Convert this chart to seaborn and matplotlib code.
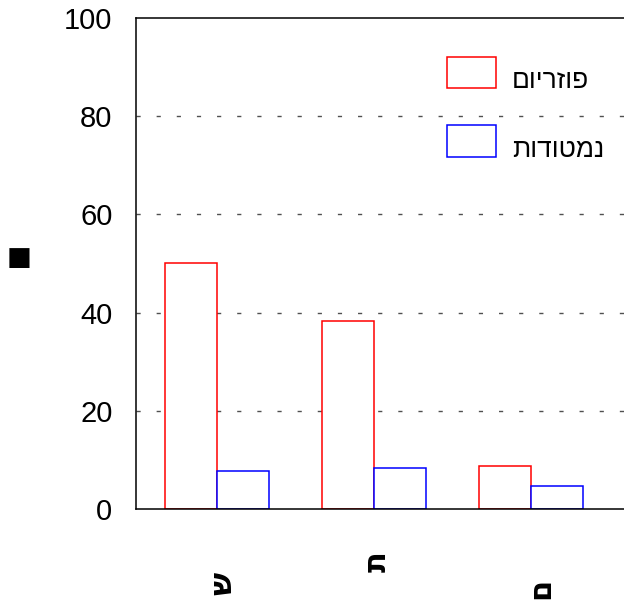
import matplotlib
matplotlib.use("Agg")
import matplotlib.pyplot as plt
import matplotlib.transforms as mtransforms
from matplotlib.patches import Rectangle
import seaborn as sns
import pandas as pd

# Data
groups = ["ש", "ת", "ם"]
series = ["פוזריום", "נמטודות"]
fusarium = [50.1, 38.3, 8.7]
nematodes = [7.7, 8.3, 4.6]
yticks = [0, 20, 40, 60, 80, 100]
colors = ["#ff0000", "#0000ff"]


def rtl(s):
    # matplotlib lays glyphs out left to right; flip Hebrew for display
    return s[::-1]


df = pd.DataFrame({
    "group": groups * 2,
    "series": [series[0]] * 3 + [series[1]] * 3,
    "value": fusarium + nematodes,
})

sns.set_style("white")
plt.rcParams["font.family"] = ["Liberation Sans", "DejaVu Sans"]
plt.rcParams["lines.scale_dashes"] = False
plt.rcParams["text.color"] = "black"
plt.rcParams["ytick.color"] = "black"
plt.rcParams["xtick.color"] = "black"

W, H = 624, 603
fig = plt.figure(figsize=(W / 100, H / 100), dpi=100)
left, right, top, bottom = 136, 640, 18, 509
ax = fig.add_axes([left / W, 1 - bottom / H, (right - left) / W, (bottom - top) / H])

sns.barplot(data=df, x="group", y="value", hue="series", order=groups,
            hue_order=series, palette=colors, width=0.66, gap=0,
            linewidth=1.1, ax=ax, legend=False, zorder=2)

# Open white bars with coloured outlines
for i, p in enumerate(ax.patches):
    c = colors[i // len(groups)]
    p.set_facecolor("white")
    p.set_edgecolor(c)

px_per_unit = 157
ax.set_xlim(-(217 - left) / px_per_unit, (right - 217) / px_per_unit)
ax.set_ylim(0, 100)
ax.set_yticks(yticks)
ax.set_yticklabels([str(t) for t in yticks], fontsize=21, color="black")
ax.tick_params(axis="y", length=0, pad=17)
ax.tick_params(axis="x", length=0, labelbottom=False)
ax.set_xlabel("")
ax.set_ylabel("")

for y in yticks[1:-1]:
    ax.axhline(y, color="#505050", lw=1, linestyle=(0, (3, 11.5)), zorder=1)

for s in ax.spines.values():
    s.set_color("black")
    s.set_linewidth(1.1)
ax.spines["right"].set_visible(False)

# Category labels, rotated
trans = mtransforms.blended_transform_factory(ax.transData, fig.transFigure)
label_pos = [(0.04, 583), (0.02, 562), (0.06, 588)]
for i, g in enumerate(groups):
    dx, ypx = label_pos[i]
    ax.text(i + dx, 1 - ypx / H, g, transform=trans, rotation=90,
            ha="center", va="center", fontsize=22, fontweight="bold",
            family=["DejaVu Sans"])

fig.text(19 / W, 1 - 258 / H, "■", ha="center", va="center", fontsize=19,
         family=["DejaVu Sans"])

# Legend: outlined key boxes with labels to their right
key_boxes = [(447, 57, 496, 88), (447, 125, 496, 157)]
for (x0, y0, x1, y1), c, name in zip(key_boxes, colors, series):
    fig.patches.append(Rectangle((x0 / W, 1 - y1 / H), (x1 - x0) / W, (y1 - y0) / H,
                                 transform=fig.transFigure, facecolor="white",
                                 edgecolor=c, linewidth=1.1))
    fig.text(512 / W, 1 - y1 / H, rtl(name), ha="left", va="baseline",
             fontsize=19)

fig.savefig("out.png", dpi=100)
